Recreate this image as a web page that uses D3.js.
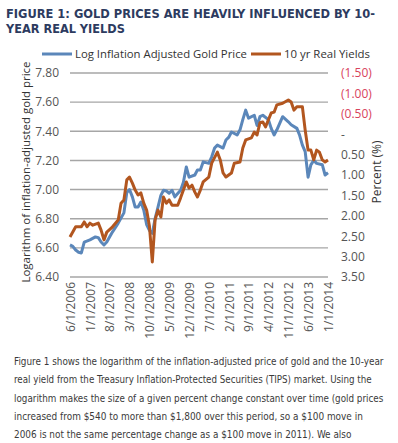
<!DOCTYPE html>
<html>
<head>
<meta charset="utf-8">
<script src="https://cdn.jsdelivr.net/npm/d3@7"></script>
<style>
  body { margin: 0; background: #ffffff; }
  svg { display: block; }
  .tick-label { font-family: "Open Sans", sans-serif; font-size: 12px; fill: #555555; }
</style>
</head>
<body>
<div id="chart"></div>
<script>
// Chart data
var goldDates = ["2006-06","2006-07","2006-08","2006-09","2006-10","2006-11","2007-01","2007-03","2007-04","2007-05",
  "2007-06","2007-07","2007-09","2007-11","2008-01","2008-02","2008-03","2008-04","2008-05","2008-06",
  "2008-07","2008-08","2008-09","2008-10","2008-11","2008-12","2009-01","2009-02","2009-03","2009-04",
  "2009-05","2009-06","2009-07","2009-09","2009-10","2009-11","2009-12","2010-02","2010-03","2010-04",
  "2010-05","2010-07","2010-08","2010-09","2010-10","2010-12","2011-01","2011-02","2011-03","2011-05",
  "2011-06","2011-07","2011-08","2011-09","2011-11","2011-12","2012-01","2012-02","2012-04","2012-05",
  "2012-06","2012-07","2012-09","2012-11","2012-12","2013-02","2013-03","2013-04","2013-05","2013-06",
  "2013-07","2013-08","2013-09","2013-11","2013-12","2014-01"];
var goldValues = [6.62,6.61,6.585,6.57,6.565,6.64,6.655,6.675,6.67,6.64,
  6.62,6.64,6.71,6.77,6.84,6.98,7.00,6.95,6.88,6.88,
  6.915,6.86,6.76,6.72,6.70,6.80,6.88,6.96,6.995,6.99,
  6.975,6.995,6.95,6.995,7.05,7.155,7.085,7.10,7.135,7.135,
  7.19,7.18,7.225,7.285,7.305,7.285,7.34,7.36,7.395,7.375,
  7.41,7.48,7.545,7.49,7.51,7.44,7.50,7.51,7.48,7.42,
  7.375,7.41,7.50,7.465,7.445,7.42,7.375,7.305,7.26,7.085,
  7.17,7.20,7.18,7.17,7.10,7.115];

var yieldDates = ["2006-06","2006-08","2006-10","2006-11","2006-12","2007-01","2007-02","2007-04","2007-05","2007-06",
  "2007-07","2007-09","2007-11","2007-12","2008-01","2008-02","2008-03","2008-04","2008-05","2008-06",
  "2008-07","2008-08","2008-09","2008-10","2008-11","2008-12","2009-01","2009-02","2009-03","2009-04",
  "2009-05","2009-06","2009-08","2009-09","2009-11","2009-12","2010-01","2010-02","2010-03","2010-04",
  "2010-05","2010-07","2010-08","2010-10","2010-11","2010-12","2011-01","2011-03","2011-04","2011-06",
  "2011-07","2011-08","2011-10","2011-11","2011-12","2012-01","2012-02","2012-03","2012-05","2012-06",
  "2012-07","2012-09","2012-11","2012-12","2013-01","2013-02","2013-04","2013-05","2013-06","2013-07",
  "2013-08","2013-09","2013-10","2013-11","2013-12","2014-01"];
var yieldValues = [2.52,2.27,2.27,2.15,2.27,2.18,2.23,2.18,2.35,2.59,
  2.40,2.27,2.10,1.69,1.61,1.12,1.05,1.20,1.37,1.49,
  1.44,1.69,1.86,2.25,3.13,2.10,1.86,2.03,1.54,1.69,
  1.61,1.74,1.74,1.56,1.17,1.32,1.25,1.42,1.54,1.37,
  1.17,1.05,0.71,0.44,0.63,0.95,1.05,0.95,0.71,0.68,
  0.34,0.14,0.09,-0.05,0.02,-0.28,-0.30,-0.18,-0.52,-0.54,
  -0.72,-0.76,-0.84,-0.79,-0.59,-0.67,-0.67,-0.10,0.39,0.39,
  0.63,0.39,0.44,0.63,0.68,0.63];

// Tick labels
var xTickLabels = ["6/1/2006","1/1/2007","8/1/2007","3/1/2008","10/1/2008","5/1/2009","12/1/2009",
  "7/1/2010","2/1/2011","9/1/2011","4/1/2012","11/1/2012","6/1/2013","1/1/2014"];
var leftTicks = [6.40, 6.60, 6.80, 7.00, 7.20, 7.40, 7.60, 7.80];
var rightTicks = [-1.5, -1.0, -0.5, 0, 0.5, 1.0, 1.5, 2.0, 2.5, 3.0, 3.5];

var titleLines = ["FIGURE 1: GOLD PRICES ARE HEAVILY INFLUENCED BY 10-", "YEAR REAL YIELDS"];
var titleWidths = [369, 119];
var bodyLines = [
  "Figure 1 shows the logarithm of the inflation-adjusted price of gold and the 10-year",
  "real yield from the Treasury Inflation-Protected Securities (TIPS) market. Using the",
  "logarithm makes the size of a given percent change constant over time (gold prices",
  "increased from $540 to more than $1,800 over this period, so a $100 move in",
  "2006 is not the same percentage change as a $100 move in 2011). We also"
];
var bodyWidths = [370, 358, 370, 349, 338];

// Svg container
var svgWidth = 398;
var svgHeight = 443;

var margin = { top: 73, left: 70, right: 70, bottom: 166 };
var width = 328 - margin.left;
var height = 277 - margin.top;

var svg = d3.select("#chart")
  .append("svg")
  .attr("width", svgWidth)
  .attr("height", svgHeight);

var parseMonth = d3.timeParse("%Y-%m");
var parseTick = d3.timeParse("%m/%d/%Y");

var goldData = goldDates.map((d, i) => ({ date: parseMonth(d), value: goldValues[i] }));
var yieldData = yieldDates.map((d, i) => ({ date: parseMonth(d), value: yieldValues[i] }));

// Shrink a text's font until it fits the wanted width
function fitText(sel, maxSize, target) {
  sel.each(function (d, i) {
    var node = d3.select(this);
    var w = target(i);
    node.style("font-size", maxSize + "px");
    var natural = this.getComputedTextLength();
    if (natural > w) {
      node.style("font-size", (maxSize * w / natural).toFixed(2) + "px");
    }
  });
}

// Title
var titles = svg.selectAll(".title")
  .data(titleLines)
  .enter()
  .append("text")
  .attr("class", "title")
  .attr("x", 6)
  .attr("y", (d, i) => 18 + i * 14.5)
  .style("font-family", "'Liberation Sans Narrow', 'DejaVu Sans Condensed', sans-serif")
  .style("font-weight", "bold")
  .style("fill", "#2d3b5f")
  .text(d => d);
fitText(titles, 14, i => titleWidths[i]);

var chartGroup = svg.append("g")
  .attr("transform", `translate(${margin.left}, ${margin.top})`);

// Scales
var xTimeScale = d3.scaleTime()
  .domain([parseMonth("2006-06"), parseMonth("2014-01")])
  .range([0, width]);

var yLeftScale = d3.scaleLinear()
  .domain([6.4, 7.8])
  .range([height, 0]);

var yRightScale = d3.scaleLinear()
  .domain([3.5, -1.5])
  .range([height, 0]);

// Gridlines
chartGroup.selectAll(".grid")
  .data(leftTicks)
  .enter()
  .append("line")
  .attr("x1", 0)
  .attr("x2", width)
  .attr("y1", d => yLeftScale(d))
  .attr("y2", d => yLeftScale(d))
  .attr("stroke", "#a6a6a6")
  .attr("stroke-width", 1.4);

// Left axis
var leftAxis = d3.axisLeft(yLeftScale)
  .tickValues(leftTicks)
  .tickFormat(d3.format(".2f"))
  .tickSize(0)
  .tickPadding(11);

var leftG = chartGroup.append("g").call(leftAxis);
leftG.select(".domain").remove();
leftG.selectAll("text").attr("class", "tick-label").attr("fill", null);

// Right axis
var rightFormat = function (d) {
  if (d === 0) return "-";
  if (d < 0) return "(" + d3.format(".2f")(-d) + ")";
  return d3.format(".2f")(d);
};

var rightAxis = d3.axisRight(yRightScale)
  .tickValues(rightTicks)
  .tickFormat(rightFormat)
  .tickSize(0)
  .tickPadding(13);

var rightG = chartGroup.append("g")
  .attr("transform", `translate(${width}, 0)`)
  .call(rightAxis);
rightG.select(".domain").remove();
rightG.selectAll("text")
  .attr("class", "tick-label")
  .attr("fill", null)
  .style("fill", d => d < 0 ? "#d8435c" : "#555555");

// X axis labels (rotated)
var xAxis = d3.axisBottom(xTimeScale)
  .tickValues(xTickLabels.map(parseTick))
  .tickFormat((d, i) => xTickLabels[i])
  .tickSize(0)
  .tickPadding(0);

var xG = chartGroup.append("g")
  .attr("transform", `translate(0, ${height})`)
  .call(xAxis);
xG.select(".domain").remove();
xG.selectAll("text")
  .attr("class", "tick-label")
  .attr("fill", null)
  .attr("text-anchor", "end")
  .attr("transform", "rotate(-90)")
  .attr("x", -5)
  .attr("y", 0)
  .attr("dy", "0.35em");

// Lines
var goldLine = d3.line()
  .x(d => xTimeScale(d.date))
  .y(d => yLeftScale(d.value));

var yieldLine = d3.line()
  .x(d => xTimeScale(d.date))
  .y(d => yRightScale(d.value));

chartGroup.append("path")
  .datum(goldData)
  .attr("fill", "none")
  .attr("stroke", "#5b87ba")
  .attr("stroke-width", 3)
  .attr("stroke-linejoin", "round")
  .attr("d", goldLine);

chartGroup.append("path")
  .datum(yieldData)
  .attr("fill", "none")
  .attr("stroke", "#b2561f")
  .attr("stroke-width", 3)
  .attr("stroke-linejoin", "round")
  .attr("d", yieldLine);

// Axis titles
var leftTitle = svg.append("text")
  .attr("transform", "translate(30, 172) rotate(-90)")
  .attr("text-anchor", "middle")
  .style("font-family", "'Open Sans', sans-serif")
  .style("fill", "#333333")
  .text("Logarithm of inflation-adjusted gold price");
fitText(leftTitle, 12, () => 221);

svg.append("text")
  .attr("transform", "translate(381, 172) rotate(-90)")
  .attr("text-anchor", "middle")
  .style("font-family", "'Open Sans', sans-serif")
  .style("font-size", "12px")
  .style("fill", "#333333")
  .text("Percent (%)");

// Legend
var legend = [
  { label: "Log Inflation Adjusted Gold Price", color: "#5b87ba", x: 42, w: 172 },
  { label: "10 yr Real Yields", color: "#b2561f", x: 251, w: 86 }
];

var legendGroup = svg.append("g");
legend.forEach(function (item) {
  legendGroup.append("line")
    .attr("x1", item.x)
    .attr("x2", item.x + 30)
    .attr("y1", 54)
    .attr("y2", 54)
    .attr("stroke", item.color)
    .attr("stroke-width", 3);
  var t = legendGroup.append("text")
    .attr("x", item.x + 33)
    .attr("y", 58)
    .style("font-family", "'Open Sans', sans-serif")
    .style("fill", "#333333")
    .text(item.label);
  fitText(t, 12, () => item.w);
});

// Body text
var body = svg.selectAll(".body")
  .data(bodyLines)
  .enter()
  .append("text")
  .attr("class", "body")
  .attr("x", 14)
  .attr("y", (d, i) => 365 + i * 18.3)
  .style("font-family", "'Liberation Sans Narrow', 'DejaVu Sans Condensed', sans-serif")
  .style("fill", "#3a3a3a")
  .text(d => d);
fitText(body, 13, i => bodyWidths[i]);
</script>
</body>
</html>
